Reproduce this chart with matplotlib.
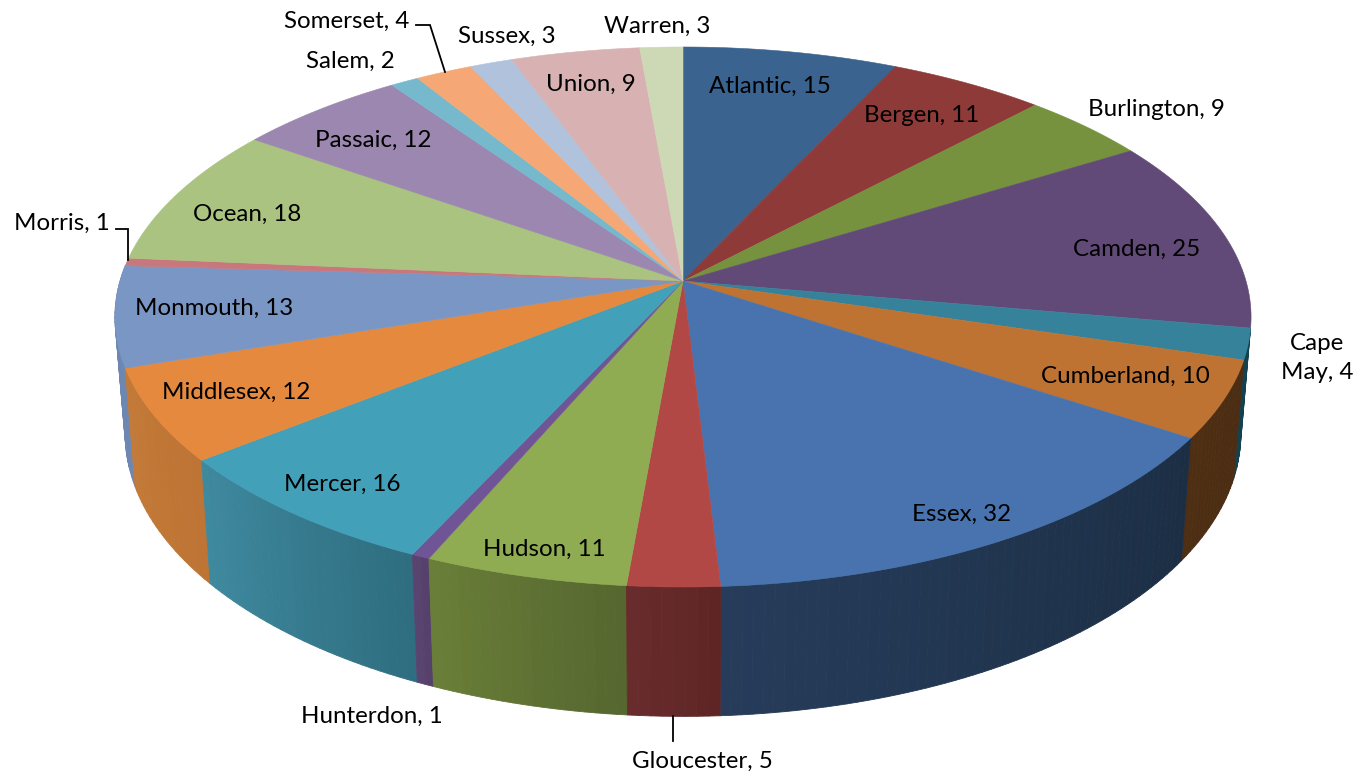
import numpy as np
import matplotlib
matplotlib.use('Agg')
import matplotlib.pyplot as plt
from matplotlib.collections import PolyCollection

counties = ['Atlantic', 'Bergen', 'Burlington', 'Camden', 'Cape\nMay', 'Cumberland', 'Essex',
            'Gloucester', 'Hudson', 'Hunterdon', 'Mercer', 'Middlesex', 'Monmouth', 'Morris',
            'Ocean', 'Passaic', 'Salem', 'Somerset', 'Sussex', 'Union', 'Warren']
counts = [15, 11, 9, 25, 4, 10, 32, 5, 11, 1, 16, 12, 13, 1, 18, 12, 2, 4, 3, 9, 3]

top_colors = ['#3a6390', '#8e3a38', '#76923f', '#624a78', '#37829b', '#be7332', '#4873af',
              '#b24846', '#8fac52', '#705596', '#43a0b9', '#e4893e', '#7a96c4', '#c8787d',
              '#aac380', '#9b87af', '#76b9cd', '#f5a876', '#b0c2dc', '#d8b2b2', '#cdd8b4']
# side wall colours, left end / right end of each slice as seen on screen
side_left = {'Cape\nMay': '#14414f', 'Cumberland': '#4e2f14', 'Essex': '#263c5a', 'Gloucester': '#6a2c2c',
             'Hudson': '#6a7f38', 'Hunterdon': '#5a4570', 'Mercer': '#3f8a9f', 'Middlesex': '#c47a38',
             'Monmouth': '#6e87b0'}
side_right = {'Cape\nMay': '#14414f', 'Cumberland': '#4a2c12', 'Essex': '#1b2e44', 'Gloucester': '#5e2424',
              'Hudson': '#55662f', 'Hunterdon': '#54406a', 'Mercer': '#2f6d80', 'Middlesex': '#bd7434',
              'Monmouth': '#6e87b0'}

# label centres in pixels
label_pos = [(770, 86), (922, 116), (1156, 110), (1137, 249), (1317, 358), (1125, 376), (962, 514),
             (702, 761), (544, 549), (372, 716), (342, 484), (236, 392), (214, 308), (62, 223),
             (247, 214), (373, 140), (350, 61), (347, 21), (507, 36), (591, 84), (657, 26)]

cx, cy = 683, 281
A, B, k = 563, 265.2, 0.1333
low_cy, low_sx, low_sy = 396, 0.982, 1.047


def top_xy(theta):
    u, v = np.sin(theta), np.cos(theta)
    den = 1 + k * v
    return cx + A * u / den, cy - B * v / den


def low_xy(theta):
    u, v = np.sin(theta), np.cos(theta)
    den = 1 + k * v
    return cx + low_sx * A * u / den, low_cy - low_sy * B * v / den


fig = plt.figure(figsize=(13.62, 7.77), dpi=100)
ax = fig.add_axes([0, 0, 1, 1])
ax.set_xlim(0, 1362)
ax.set_ylim(777, 0)
ax.axis('off')

edges = np.cumsum([0] + counts) / sum(counts) * 2 * np.pi

# side wall, back strips first
quads, quad_cols, quad_depth = [], [], []
for i, name in enumerate(counties):
    if name not in side_left:
        continue
    a0, a1 = edges[i], edges[i + 1]
    n = max(2, int((a1 - a0) * 60))
    t = np.linspace(a0, a1, n + 1)
    c_right = np.array(matplotlib.colors.to_rgb(side_right[name]))
    c_left = np.array(matplotlib.colors.to_rgb(side_left[name]))
    for j in range(n):
        x0, y0 = top_xy(t[j])
        x1, y1 = top_xy(t[j + 1])
        x2, y2 = low_xy(t[j + 1])
        x3, y3 = low_xy(t[j])
        quads.append([(x0, y0), (x1, y1), (x2, y2), (x3, y3)])
        # angle runs clockwise, so along the front wall it goes right to left
        f = (j + 0.5) / n
        quad_cols.append(c_right * (1 - f) + c_left * f)
        quad_depth.append(np.cos((t[j] + t[j + 1]) / 2))
order = np.argsort(quad_depth)[::-1]
side = PolyCollection([quads[i] for i in order], facecolors=[quad_cols[i] for i in order],
                      edgecolors=[quad_cols[i] for i in order], linewidths=0.6, zorder=2)
ax.add_collection(side)

# top face
for i in range(len(counts)):
    t = np.linspace(edges[i], edges[i + 1], 60)
    x, y = top_xy(t)
    ax.fill(np.r_[cx, x], np.r_[cy, y], facecolor=top_colors[i], edgecolor=top_colors[i],
            linewidth=0.4, zorder=3)

# leader lines
ax.plot([116, 128, 128], [229, 229, 260], color='black', lw=1.3, zorder=4, solid_joinstyle='miter')
ax.plot([416, 430, 445], [25, 25, 72], color='black', lw=1.3, zorder=4, solid_joinstyle='miter')
ax.plot([673, 673], [716, 741], color='black', lw=1.3, zorder=4)

for name, n, (lx, ly) in zip(counties, counts, label_pos):
    ax.text(lx, ly, f'{name}, {n}', ha='center', va='center', fontsize=17.4, family='Lato',
            color='black', zorder=5, linespacing=1.45)

fig.savefig('out.png', dpi=100)
plt.close(fig)
